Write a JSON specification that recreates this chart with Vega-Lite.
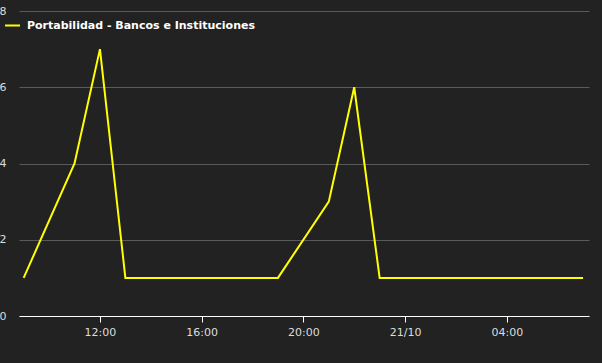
{
  "$schema": "https://vega.github.io/schema/vega-lite/v6.json",
  "width": 570,
  "height": 305,
  "autosize": {"type": "none"},
  "padding": {"left": 19, "top": 11, "right": 13, "bottom": 47},
  "background": "#222222",
  "config": {
    "view": {"stroke": null},
    "font": "DejaVu Sans"
  },
  "data": {
    "values": [
      {"time": "2023-10-20T09:00:00", "value": 1, "series": "Portabilidad - Bancos e Instituciones"},
      {"time": "2023-10-20T11:00:00", "value": 4, "series": "Portabilidad - Bancos e Instituciones"},
      {"time": "2023-10-20T12:00:00", "value": 7, "series": "Portabilidad - Bancos e Instituciones"},
      {"time": "2023-10-20T13:00:00", "value": 1, "series": "Portabilidad - Bancos e Instituciones"},
      {"time": "2023-10-20T14:00:00", "value": 1, "series": "Portabilidad - Bancos e Instituciones"},
      {"time": "2023-10-20T15:00:00", "value": 1, "series": "Portabilidad - Bancos e Instituciones"},
      {"time": "2023-10-20T16:00:00", "value": 1, "series": "Portabilidad - Bancos e Instituciones"},
      {"time": "2023-10-20T17:00:00", "value": 1, "series": "Portabilidad - Bancos e Instituciones"},
      {"time": "2023-10-20T18:00:00", "value": 1, "series": "Portabilidad - Bancos e Instituciones"},
      {"time": "2023-10-20T19:00:00", "value": 1, "series": "Portabilidad - Bancos e Instituciones"},
      {"time": "2023-10-20T21:00:00", "value": 3, "series": "Portabilidad - Bancos e Instituciones"},
      {"time": "2023-10-20T22:00:00", "value": 6, "series": "Portabilidad - Bancos e Instituciones"},
      {"time": "2023-10-20T23:00:00", "value": 1, "series": "Portabilidad - Bancos e Instituciones"},
      {"time": "2023-10-21T00:00:00", "value": 1, "series": "Portabilidad - Bancos e Instituciones"},
      {"time": "2023-10-21T01:00:00", "value": 1, "series": "Portabilidad - Bancos e Instituciones"},
      {"time": "2023-10-21T02:00:00", "value": 1, "series": "Portabilidad - Bancos e Instituciones"},
      {"time": "2023-10-21T03:00:00", "value": 1, "series": "Portabilidad - Bancos e Instituciones"},
      {"time": "2023-10-21T04:00:00", "value": 1, "series": "Portabilidad - Bancos e Instituciones"},
      {"time": "2023-10-21T05:00:00", "value": 1, "series": "Portabilidad - Bancos e Instituciones"},
      {"time": "2023-10-21T06:00:00", "value": 1, "series": "Portabilidad - Bancos e Instituciones"},
      {"time": "2023-10-21T07:00:00", "value": 1, "series": "Portabilidad - Bancos e Instituciones"}
    ]
  },
  "mark": {"type": "line", "strokeWidth": 2, "clip": true},
  "encoding": {
    "x": {
      "field": "time",
      "type": "temporal",
      "scale": {"domain": ["2023-10-20T08:49:00", "2023-10-21T07:14:00"]},
      "axis": {
        "title": null,
        "grid": false,
        "values": [
          {"year": 2023, "month": 10, "date": 20, "hours": 12},
          {"year": 2023, "month": 10, "date": 20, "hours": 16},
          {"year": 2023, "month": 10, "date": 20, "hours": 20},
          {"year": 2023, "month": 10, "date": 21, "hours": 0},
          {"year": 2023, "month": 10, "date": 21, "hours": 4}
        ],
        "format": "%H:%M",
        "labelExpr": "hours(datum.value) == 0 ? timeFormat(datum.value, '%d/%m') : datum.label",
        "domainColor": "#ffffff",
        "domainWidth": 1,
        "tickColor": "#ffffff",
        "tickSize": 6,
        "labelColor": "#dddddd",
        "labelFontSize": 11,
        "labelPadding": 4,
        "labelFont": "DejaVu Sans"
      }
    },
    "y": {
      "field": "value",
      "type": "quantitative",
      "scale": {"domain": [0, 8]},
      "axis": {
        "title": null,
        "values": [0, 2, 4, 6, 8],
        "domain": false,
        "ticks": false,
        "grid": true,
        "gridColor": "#5a5a5a",
        "gridWidth": 1,
        "labelColor": "#dddddd",
        "labelFontSize": 11,
        "labelPadding": 13,
        "labelFont": "DejaVu Sans"
      }
    },
    "color": {
      "field": "series",
      "type": "nominal",
      "scale": {"range": ["#ffff00"]},
      "legend": {
        "title": null,
        "orient": "none",
        "legendX": -15,
        "legendY": 6,
        "symbolType": "stroke",
        "symbolStrokeWidth": 2,
        "symbolSize": 225,
        "labelColor": "#ffffff",
        "labelFontSize": 11,
        "labelFontWeight": "bold",
        "labelFont": "DejaVu Sans",
        "labelOffset": 6,
        "labelLimit": 500
      }
    }
  }
}
